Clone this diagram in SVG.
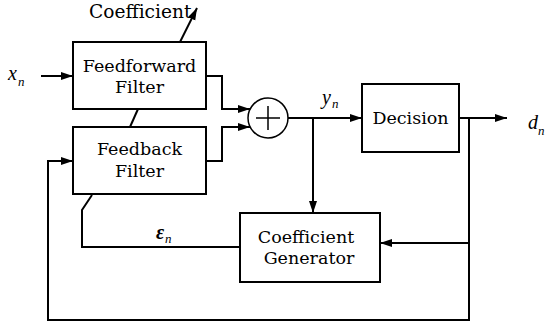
<svg xmlns="http://www.w3.org/2000/svg" width="547" height="324" viewBox="0 0 547 324">
<defs>
<marker id="ah" markerUnits="userSpaceOnUse" markerWidth="13" markerHeight="9" refX="12" refY="4" orient="auto">
<path d="M0,0 L12,4 L0,8 z" fill="#000"/>
</marker>
<style>
.box{fill:#fff;stroke:#000;stroke-width:2}
.ln{fill:none;stroke:#000;stroke-width:2}
.t{font-family:"DejaVu Serif",serif;font-size:17.5px;text-anchor:middle;fill:#000}
.v{font-family:"Liberation Serif",serif;font-style:italic;font-size:20px;fill:#000}
.s{font-family:"Liberation Serif",serif;font-style:italic;font-size:13px;fill:#000}
</style>
</defs>
<g id="connectors">
<path class="ln" d="M180,42 L197,8" marker-end="url(#ah)"/>
<path class="ln" d="M130,127 L138,109"/>
<path class="ln" d="M41,76 L73,76" marker-end="url(#ah)"/>
<path class="ln" d="M206,76 L222,76 L222,109 L250,109" marker-end="url(#ah)"/>
<path class="ln" d="M206,161 L222,161 L222,127 L250,127" marker-end="url(#ah)"/>
<path class="ln" d="M288,118 L362,118" marker-end="url(#ah)"/>
<path class="ln" d="M313,118 L313,213" marker-end="url(#ah)"/>
<path class="ln" d="M459,118 L507,118" marker-end="url(#ah)"/>
<path class="ln" d="M469,118 L469,320 L48,320 L48,161 L73,161" marker-end="url(#ah)"/>
<path class="ln" d="M469,243 L380,243" marker-end="url(#ah)"/>
<path class="ln" d="M92,195 L82,210 L82,247 L240,247"/>
</g>
<g id="feedforward">
<rect class="box" x="73" y="42" width="133" height="67"/>
<text class="t" x="139.5" y="72">Feedforward</text>
<text class="t" x="139.5" y="93">Filter</text>
</g>
<g id="feedback">
<rect class="box" x="73" y="127" width="133" height="67"/>
<text class="t" x="139.5" y="155">Feedback</text>
<text class="t" x="139.5" y="177">Filter</text>
</g>
<g id="sum">
<circle cx="268" cy="118" r="20" fill="#fff" stroke="#000" stroke-width="1.5"/>
<path d="M256,118 L280,118 M268,106 L268,130" stroke="#000" stroke-width="1.5"/>
</g>
<g id="decision">
<rect class="box" x="362" y="84" width="97" height="68"/>
<text class="t" x="410.5" y="124">Decision</text>
</g>
<g id="coefgen">
<rect class="box" x="240" y="213" width="140" height="69"/>
<text class="t" x="306" y="243">Coefficient</text>
<text class="t" x="309" y="264">Generator</text>
</g>
<g id="labels">
<text x="89" y="18" style="font-family:'DejaVu Serif',serif;font-size:18.6px;fill:#000">Coefficient</text>
<text class="v" x="8" y="80">x</text><text class="s" x="18" y="86">n</text>
<text class="v" x="322" y="104">y</text><text class="s" x="332" y="108">n</text>
<text class="v" x="528" y="129">d</text><text class="s" x="538" y="135">n</text>
<text class="v" x="156" y="239" style="font-weight:bold">ε</text><text class="s" x="165" y="243">n</text>
</g>
</svg>
